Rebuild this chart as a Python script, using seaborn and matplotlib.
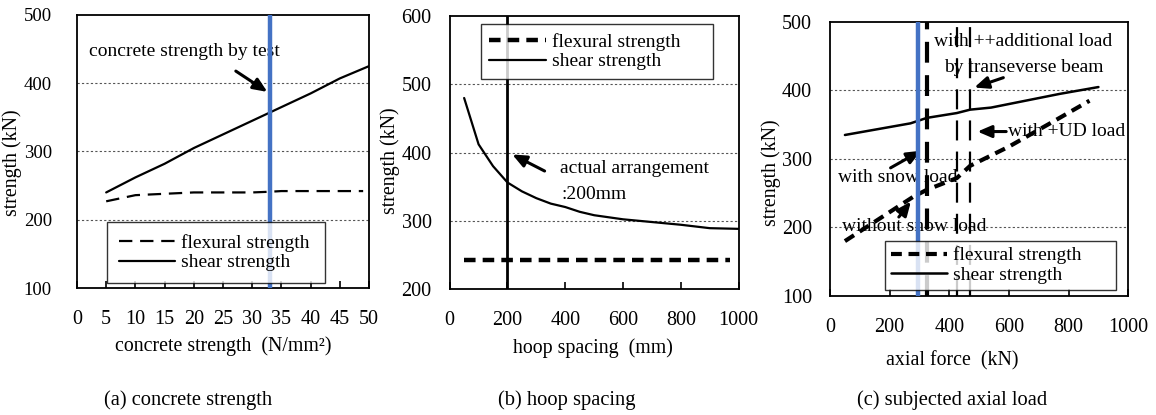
import matplotlib

matplotlib.use("Agg")
import matplotlib.pyplot as plt
import pandas as pd
import seaborn as sns

# (a) concrete strength
conc_x = [5, 10, 15, 20, 25, 30, 33, 35, 40, 45, 50]
conc_shear = [240, 262, 282, 305, 325, 345, 357, 365, 385, 407, 425]
conc_flex_x = [5, 10, 15, 20, 25, 30, 33, 35, 40, 45, 49]
conc_flex = [227, 236, 238, 240, 240, 240, 241, 242, 242, 242, 242]
conc_test = 33

# (b) hoop spacing
hoop_x = [50, 100, 150, 200, 250, 300, 350, 400, 450, 500, 600, 700, 800, 900, 1000]
hoop_shear = [480, 412, 380, 356, 343, 333, 325, 320, 313, 308, 302, 298, 294, 289, 288]
hoop_flex_x = [50, 970]
hoop_flex = [243, 243]
hoop_actual = 200

# (c) axial force
axial_shear_x = [50, 270, 325, 425, 470, 540, 770, 900]
axial_shear = [335, 352, 360, 367, 372, 375, 395, 405]
axial_flex_x = [50, 280, 325, 425, 470, 600, 750, 870]
axial_flex = [180, 245, 255, 272, 290, 318, 355, 385]
axial_snow = 295
axial_cases = [325, 425, 470]

plt.rcParams["figure.dpi"] = 100
sns.set_theme(style="white")
plt.rcParams["font.family"] = ["Liberation Serif", "DejaVu Serif"]
plt.rcParams["text.color"] = "black"

FS_TICK = 14.5
FS_LAB = 14.3
FS_TXT = 14
FS_CAP = 14.8
BLUE = "#4472C4"
ARROW = dict(arrowstyle="-|>,head_length=0.7,head_width=0.3", lw=2.2, color="black")


def style_axes(ax, xlim, ylim, xticks, yticks, ypad, ysize=FS_TICK):
    ax.set_xlim(*xlim)
    ax.set_ylim(*ylim)
    ax.set_xticks(xticks)
    ax.set_yticks(yticks)
    for s in ax.spines.values():
        s.set_color("black")
        s.set_linewidth(1.3)
    ax.tick_params(axis="x", direction="in", length=5, width=1.2, pad=16,
                   labelsize=FS_TICK, colors="black", top=False, bottom=True)
    ax.tick_params(axis="y", length=0, pad=ypad, labelsize=ysize, colors="black")
    for y in yticks[1:-1]:
        ax.axhline(y, color="#555555", lw=0.8, ls=(0, (2, 2)), zorder=0)


def add_legend(ax, x0, y0, w, borderpad):
    leg = ax.legend(loc="lower left", bbox_to_anchor=(x0, y0, w, 0.1), mode="expand",
                    frameon=True, fancybox=False, edgecolor="black", fontsize=FS_TXT,
                    handlelength=2.9, labelspacing=0.1, borderpad=borderpad,
                    handletextpad=0.3, borderaxespad=0)
    leg.get_frame().set_linewidth(1.0)
    leg.set_zorder(5)


fig = plt.figure(figsize=(11.56, 4.15))

# ---- (a)
ax = fig.add_axes([0.0666, 0.306, 0.2526, 0.658])
style_axes(ax, (0, 50), (100, 500), list(range(0, 55, 5)), [100, 200, 300, 400, 500], 18, 13.5)
sns.lineplot(x=conc_flex_x, y=conc_flex, ax=ax, color="black", lw=1.6,
             linestyle=(0, (6, 3.5)), label="flexural strength")
sns.lineplot(x=conc_x, y=conc_shear, ax=ax, color="black", lw=1.6, label="shear strength")
ax.axvline(conc_test, color=BLUE, lw=3.2, zorder=4)
ax.text(2, 446, "concrete strength by test", fontsize=FS_TXT, ha="left", va="center")
ax.annotate("", xy=(33, 385), xytext=(26.8, 420), arrowprops=ARROW)
ax.set_xlabel("concrete strength  (N/mm²)", fontsize=FS_LAB, color="black")
ax.set_ylabel("strength (kN)", fontsize=FS_LAB, color="black")
ax.xaxis.set_label_coords(0.5, -0.177)
ax.yaxis.set_label_coords(-0.187, 0.46)
add_legend(ax, 0.103, 0.018, 0.746, 0.6)

# ---- (b)
ax = fig.add_axes([0.389, 0.304, 0.250, 0.657])
style_axes(ax, (0, 1000), (200, 600), [0, 200, 400, 600, 800, 1000], [200, 300, 400, 500, 600], 13)
sns.lineplot(x=hoop_flex_x, y=hoop_flex, ax=ax, color="black", lw=3.2,
             linestyle=(0, (2.6, 1.6)), label="flexural strength")
sns.lineplot(x=hoop_x, y=hoop_shear, ax=ax, color="black", lw=1.6, label="shear strength")
ax.axvline(hoop_actual, color="black", lw=2, zorder=3)
ax.text(381, 376, "actual arrangement", fontsize=FS_TXT, ha="left", va="center")
ax.text(388, 338, ":200mm", fontsize=FS_TXT, ha="left", va="center")
ax.annotate("", xy=(208, 399), xytext=(337, 371), arrowprops=ARROW)
ax.set_xlabel("hoop spacing  (mm)", fontsize=FS_LAB, color="black")
ax.set_ylabel("strength (kN)", fontsize=FS_LAB, color="black")
ax.xaxis.set_label_coords(0.495, -0.182)
ax.yaxis.set_label_coords(-0.173, 0.47)
add_legend(ax, 0.107, 0.769, 0.803, 0.45)

# ---- (c)
ax = fig.add_axes([0.718, 0.287, 0.258, 0.66])
style_axes(ax, (0, 1000), (100, 500), [0, 200, 400, 600, 800, 1000], [100, 200, 300, 400, 500], 13)
sns.lineplot(x=axial_flex_x, y=axial_flex, ax=ax, color="black", lw=3.0,
             linestyle=(0, (2.6, 1.6)), label="flexural strength")
sns.lineplot(x=axial_shear_x, y=axial_shear, ax=ax, color="black", lw=1.8, label="shear strength")
ax.axvline(axial_snow, color=BLUE, lw=3.2, zorder=4)
ax.axvline(axial_cases[0], color="black", lw=3.0, ls=(0, (5, 3)), zorder=3)
for xc in axial_cases[1:]:
    ax.axvline(xc, color="black", lw=1.6, ls=(0, (9, 5)), zorder=3)
ax.text(648, 471, "with ++additional load", fontsize=FS_TXT, ha="center", va="center")
ax.text(650, 433, "by transeverse beam", fontsize=FS_TXT, ha="center", va="center")
ax.annotate("", xy=(475, 403), xytext=(590, 420), arrowprops=ARROW)
ax.text(598, 340, "with +UD load", fontsize=FS_TXT, ha="left", va="center")
ax.annotate("", xy=(485, 340), xytext=(600, 340), arrowprops=ARROW)
ax.text(27, 273, "with snow load", fontsize=FS_TXT, ha="left", va="center")
ax.annotate("", xy=(313, 314), xytext=(195, 285), arrowprops=ARROW)
ax.text(40, 201, "without snow load", fontsize=FS_TXT, ha="left", va="center")
ax.annotate("", xy=(277, 241), xytext=(225, 212), arrowprops=ARROW)
ax.set_xlabel("axial force  (kN)", fontsize=FS_LAB, color="black")
ax.set_ylabel("strength (kN)", fontsize=FS_LAB, color="black")
ax.xaxis.set_label_coords(0.41, -0.2)
ax.yaxis.set_label_coords(-0.165, 0.45)
add_legend(ax, 0.185, 0.022, 0.775, 0.3)

fig.text(188 / 1156, 1 - 400 / 415, "(a) concrete strength", fontsize=FS_CAP, ha="center", va="center")
fig.text(567 / 1156, 1 - 400 / 415, "(b) hoop spacing", fontsize=FS_CAP, ha="center", va="center")
fig.text(952 / 1156, 1 - 400 / 415, "(c) subjected axial load", fontsize=FS_CAP, ha="center", va="center")

fig.savefig("out.png", dpi=100, facecolor="white")
